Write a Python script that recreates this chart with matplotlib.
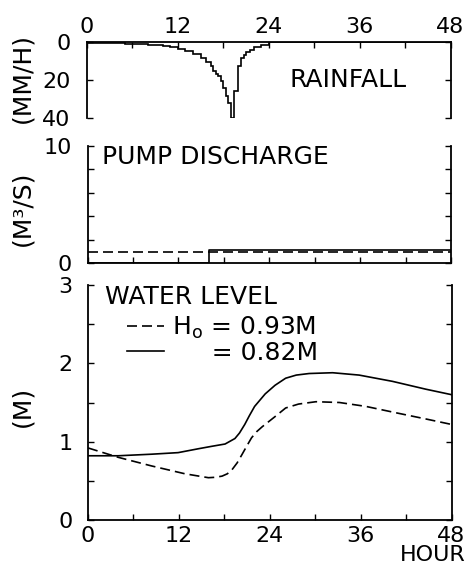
import matplotlib
matplotlib.use('Agg')
import matplotlib.pyplot as plt
from matplotlib.ticker import MultipleLocator

plt.rcParams['font.family'] = ['DejaVu Sans']

# ---------------- data ----------------
# rainfall hyetograph (mm/h): step edges (hours) and intensities
rain_edges = [0, 1, 2, 3, 4, 5, 6, 7, 8, 9, 10, 11, 12, 13, 14, 15, 15.67, 16.33,
              16.67, 17.0, 17.33, 17.67, 18.0, 18.33, 18.67, 19.0, 19.4, 20.0,
              20.33, 20.67, 21.0, 21.5, 22.0, 23.0, 24.0, 48.0]
rain_int = [0.3, 0.35, 0.4, 0.5, 0.6, 0.7, 0.8, 1.0, 1.2, 1.5, 1.9, 2.5, 3.3, 4.5,
            6.2, 8.5, 10.5, 12.6, 15.3, 16.5, 18.0, 20.5, 24.0, 28.4, 32.0, 40.0,
            25.8, 12.6, 8.3, 6.5, 5.2, 4.0, 2.6, 1.3, 0.0]

# pump discharge (m3/s)
pump_hours = [0, 16, 48]
pump_solid = [0.0, 1.1, 1.1]
pump_dash = [0.95, 0.95, 0.95]

# water level (m)
wl_solid_h = [0, 4.0, 8.4, 11.9, 14.6, 16.3, 18.1, 19.4, 20.0, 20.7, 21.3, 22.0,
              23.4, 24.7, 26.1, 27.5, 29.2, 32.3, 35.8, 40.2, 44.6, 48.0]
wl_solid = [0.82, 0.82, 0.84, 0.86, 0.91, 0.94, 0.97, 1.04, 1.11, 1.22, 1.33, 1.45,
            1.61, 1.72, 1.81, 1.85, 1.87, 1.88, 1.85, 1.77, 1.67, 1.60]
wl_dash_h = [0, 4.0, 8.4, 12.8, 15.9, 16.8, 17.7, 18.4, 19.0, 19.7, 20.3, 21.0,
             21.6, 22.3, 23.0, 24.7, 26.1, 27.8, 30.1, 33.2, 36.7, 41.1, 44.6, 48.0]
wl_dash = [0.92, 0.80, 0.69, 0.59, 0.54, 0.545, 0.56, 0.59, 0.64, 0.73, 0.83, 0.95,
           1.05, 1.13, 1.19, 1.32, 1.43, 1.48, 1.51, 1.50, 1.45, 1.36, 1.29, 1.22]

hour_ticks = [0, 12, 24, 36, 48]
legend_labels = [r'H$_{\mathregular{o}}$ = 0.93M', '\u2007\u2007 = 0.82M']

# ---------------- layout ----------------
W, H = 470, 566
fig = plt.figure(figsize=(W / 100, H / 100), dpi=100)


def box(l, t, r, b):
    return [l / W, 1 - b / H, (r - l) / W, (b - t) / H]


ax1 = fig.add_axes(box(87, 42.3, 450.5, 118.3))
ax2 = fig.add_axes(box(87.5, 146, 451, 263.3))
ax3 = fig.add_axes(box(88, 285, 451.5, 520))

TFS = 16   # tick label size
LFS = 18   # annotation size
LW = 1.2

for ax in (ax1, ax2, ax3):
    ax.set_xlim(0, 48)
    for s in ax.spines.values():
        s.set_linewidth(1.3)
    ax.tick_params(which='both', direction='in', width=1.0, labelsize=TFS)
    ax.tick_params(which='major', length=4)
    ax.tick_params(which='minor', length=4)
    ax.xaxis.set_minor_locator(MultipleLocator(6))
    ax.set_xticks(hour_ticks)

# ---- rainfall panel ----
ax1.stairs(rain_int, rain_edges, color='k', lw=LW, baseline=0)
ax1.set_ylim(40, 0)
ax1.set_yticks([0, 20, 40])
ax1.spines['bottom'].set_visible(False)
ax1.xaxis.tick_top()
ax1.tick_params(axis='x', which='both', top=True, bottom=False, labeltop=True,
                labelbottom=False, pad=4)
ax1.tick_params(axis='y', left=True, right=True, labelright=False, pad=12)
ax1.text(34.5, 20, 'RAINFALL', fontsize=LFS, ha='center', va='center')

# ---- pump panel ----
ax2.plot(pump_hours, pump_dash, color='k', lw=LW, dashes=(6, 3), drawstyle='steps-post')
ax2.plot(pump_hours, pump_solid, color='k', lw=LW, drawstyle='steps-post')
ax2.set_ylim(0, 10)
ax2.set_yticks([0, 10])
ax2.yaxis.set_minor_locator(MultipleLocator(2))
ax2.spines['top'].set_visible(False)
ax2.tick_params(axis='x', which='both', top=False, labelbottom=False)
ax2.tick_params(axis='y', which='both', left=True, right=True, labelright=False, pad=11)
ax2.text(1.9, 9.1, 'PUMP DISCHARGE', fontsize=LFS, ha='left', va='center')

# ---- water level panel ----
l_dash, = ax3.plot(wl_dash_h, wl_dash, color='k', lw=LW, dashes=(6, 3))
l_solid, = ax3.plot(wl_solid_h, wl_solid, color='k', lw=LW)
ax3.set_ylim(0, 3)
ax3.set_yticks([0, 1, 2, 3])
ax3.yaxis.set_minor_locator(MultipleLocator(0.5))
ax3.spines['top'].set_visible(False)
ax3.tick_params(axis='x', which='both', top=False, pad=4)
ax3.tick_params(axis='y', which='both', left=True, right=True, labelright=False, pad=11)
ax3.text(2.3, 2.85, 'WATER LEVEL', fontsize=LFS, ha='left', va='center')
ax3.legend([l_dash, l_solid], legend_labels, loc='upper left',
           bbox_to_anchor=(0.107, 0.875), frameon=False, fontsize=LFS,
           handlelength=1.5, handletextpad=0.3, labelspacing=0.0,
           borderpad=0, borderaxespad=0)

# axis titles
fig.text(22 / W, 1 - 78 / H, '(MM/H)', rotation=90, fontsize=LFS, ha='center', va='center')
fig.text(22 / W, 1 - 208 / H, '(M\u00b3/S)', rotation=90, fontsize=LFS, ha='center', va='center')
fig.text(22 / W, 1 - 406 / H, '(M)', rotation=90, fontsize=LFS, ha='center', va='center')
fig.text(466 / W, 1 - 555 / H, 'HOUR', fontsize=16, ha='right', va='center')

fig.savefig('out.png', dpi=100)
